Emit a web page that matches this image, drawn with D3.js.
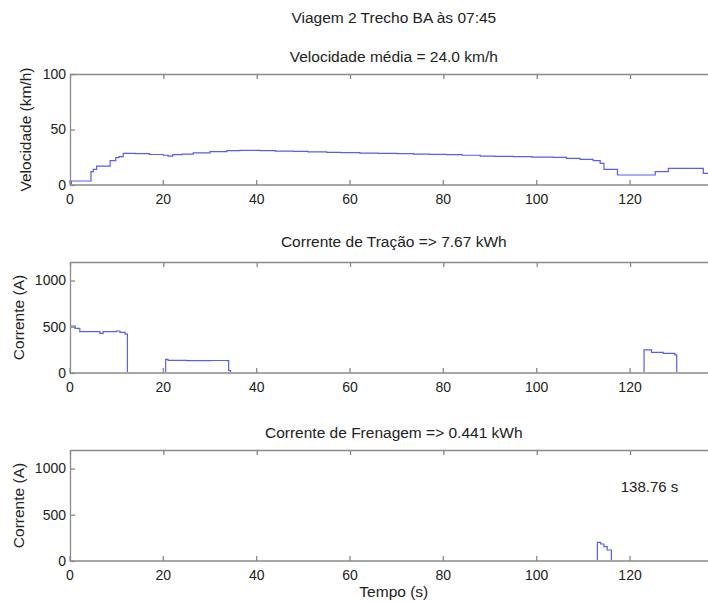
<!DOCTYPE html>
<html>
<head>
<meta charset="utf-8">
<script src="https://cdn.jsdelivr.net/npm/d3@7"></script>
<style>
  body { margin: 0; background: #fff; }
  svg { display: block; font-family: "Liberation Sans", Arial, sans-serif; }
  .axis path, .axis line { stroke: #8a8a8a; stroke-width: 1.3; }
  .axis text { fill: #222; font-size: 14px; font-family: "Liberation Sans", Arial, sans-serif; }
  .lbl { fill: #222; font-size: 15.5px; }
</style>
</head>
<body>
<svg width="708" height="602"></svg>
<script>
// tempo total da viagem
const tEnd = 138.76

// velocidade (km/h)
const velTime = [0, 0.3, 4.5, 5, 5.7, 7.1, 8.6, 9.8, 10.5, 11.4, 14, 17, 20, 21, 22, 24, 26.4, 30, 33.6, 36.4, 40.7, 44, 47.9, 51, 55, 58, 62.1, 66, 70, 73.6, 77, 80.7, 84, 87.9, 91, 95, 99, 103.6, 106.4, 109.3, 112.1, 113.6, 114.4, 117.3, 125.4, 128.2, 135.7, 138.76]
const velValues = [0, 3.6, 12, 14, 17, 17, 22, 24.6, 25.5, 28.5, 28.2, 27.5, 26.8, 26, 27.3, 27.8, 29, 30, 30.9, 31.2, 31, 30.6, 30.3, 29.8, 29.4, 29.2, 28.8, 28.5, 28.2, 27.9, 27.6, 27.3, 26.8, 26.1, 25.8, 25.5, 25.2, 24.9, 24, 23.1, 21.9, 19.5, 14.1, 9, 12, 15, 10.5, 10.5]

// corrente de tracao (A)
const tracTime = [0, 1.1, 2.1, 6.4, 7.1, 10, 10.7, 11.8, 12.3, 20.5, 21, 25, 30, 33.6, 34, 34.4, 123, 124.6, 127.1, 129.6, 130, 138.76]
const tracValues = [508, 483, 447, 429, 447, 454, 440, 421, 0, 148, 136, 133, 135, 133, 25, 0, 249, 224, 213, 195, 0, 0]

// corrente de frenagem (A)
const frenTime = [0, 113, 113.7, 114.4, 115.1, 116, 138.76]
const frenValues = [0, 202, 184, 155, 119, 0, 0]

const xTicks = [0, 20, 40, 60, 80, 100, 120]
const velTicks = [0, 50, 100]
const curTicks = [0, 500, 1000]

const svg = d3.select('svg')
const left = 70, right = 717.6

const x = d3.scaleLinear().domain([0, tEnd]).range([left, right])

var panels = [
  { top: 74, bottom: 185, ymax: 100, ticks: velTicks, t: velTime, v: velValues,
    title: 'Velocidade média = 24.0 km/h', titleY: 62, ylabel: 'Velocidade (km/h)', ylabelX: 26 },
  { top: 262, bottom: 373, ymax: 1200, ticks: curTicks, t: tracTime, v: tracValues,
    title: 'Corrente de Tração => 7.67 kWh', titleY: 247, ylabel: 'Corrente (A)', ylabelX: 19 },
  { top: 450, bottom: 561, ymax: 1200, ticks: curTicks, t: frenTime, v: frenValues,
    title: 'Corrente de Frenagem => 0.441 kWh', titleY: 438, ylabel: 'Corrente (A)', ylabelX: 19 }
]

svg.append('text')
  .attr('class', 'lbl')
  .attr('x', (left + right) / 2)
  .attr('y', 23)
  .attr('text-anchor', 'middle')
  .text('Viagem 2 Trecho BA às 07:45')

panels.forEach(function(p, i) {
  const y = d3.scaleLinear().domain([0, p.ymax]).range([p.bottom, p.top])
  const pts = p.t.map((t, k) => [t, p.v[k]])

  // keep the trace inside the box so zero parts hide under the axis
  svg.append('clipPath').attr('id', 'clip' + i)
    .append('rect')
    .attr('x', left).attr('y', p.top)
    .attr('width', right - left).attr('height', p.bottom - p.top - 1)

  const line = d3.line()
    .x(d => x(d[0]))
    .y(d => y(d[1]))
    .curve(d3.curveStepAfter)

  svg.append('path')
    .datum(pts)
    .attr('clip-path', 'url(#clip' + i + ')')
    .attr('fill', 'none')
    .attr('stroke', '#5a5aff')
    .attr('stroke-width', 1.2)
    .attr('d', line)

  // box with inward ticks, matlab style
  svg.append('g').attr('class', 'axis')
    .attr('transform', `translate(0, ${p.bottom})`)
    .call(d3.axisBottom(x).tickValues(xTicks).tickSizeInner(-5).tickSizeOuter(0).tickPadding(9).offset(0))
  svg.append('g').attr('class', 'axis')
    .attr('transform', `translate(0, ${p.top})`)
    .call(d3.axisTop(x).tickValues(xTicks).tickSizeInner(-5).tickSizeOuter(0).tickFormat(''))
  svg.append('g').attr('class', 'axis')
    .attr('transform', `translate(${left}, 0)`)
    .call(d3.axisLeft(y).tickValues(p.ticks).tickFormat(d3.format('d')).tickSizeInner(-5).tickSizeOuter(0).tickPadding(4))
  svg.append('g').attr('class', 'axis')
    .attr('transform', `translate(${right}, 0)`)
    .call(d3.axisRight(y).tickValues(p.ticks).tickSizeInner(-5).tickSizeOuter(0).tickFormat(''))

  svg.append('text')
    .attr('class', 'lbl')
    .attr('x', (left + right) / 2)
    .attr('y', p.titleY)
    .attr('text-anchor', 'middle')
    .text(p.title)

  svg.append('text')
    .attr('class', 'lbl')
    .attr('transform', `translate(${p.ylabelX}, ${(p.top + p.bottom) / 2}) rotate(-90)`)
    .attr('dy', '0.35em')
    .attr('text-anchor', 'middle')
    .text(p.ylabel)

  p.y = y
})

svg.append('text')
  .attr('class', 'lbl')
  .attr('x', (left + right) / 2)
  .attr('y', 597)
  .attr('text-anchor', 'middle')
  .text('Tempo (s)')

svg.append('text')
  .attr('class', 'lbl')
  .style('font-size', '15px')
  .attr('x', x(118))
  .attr('y', panels[2].y(800))
  .attr('dy', '0.35em')
  .text(tEnd + ' s')
</script>
</body>
</html>
